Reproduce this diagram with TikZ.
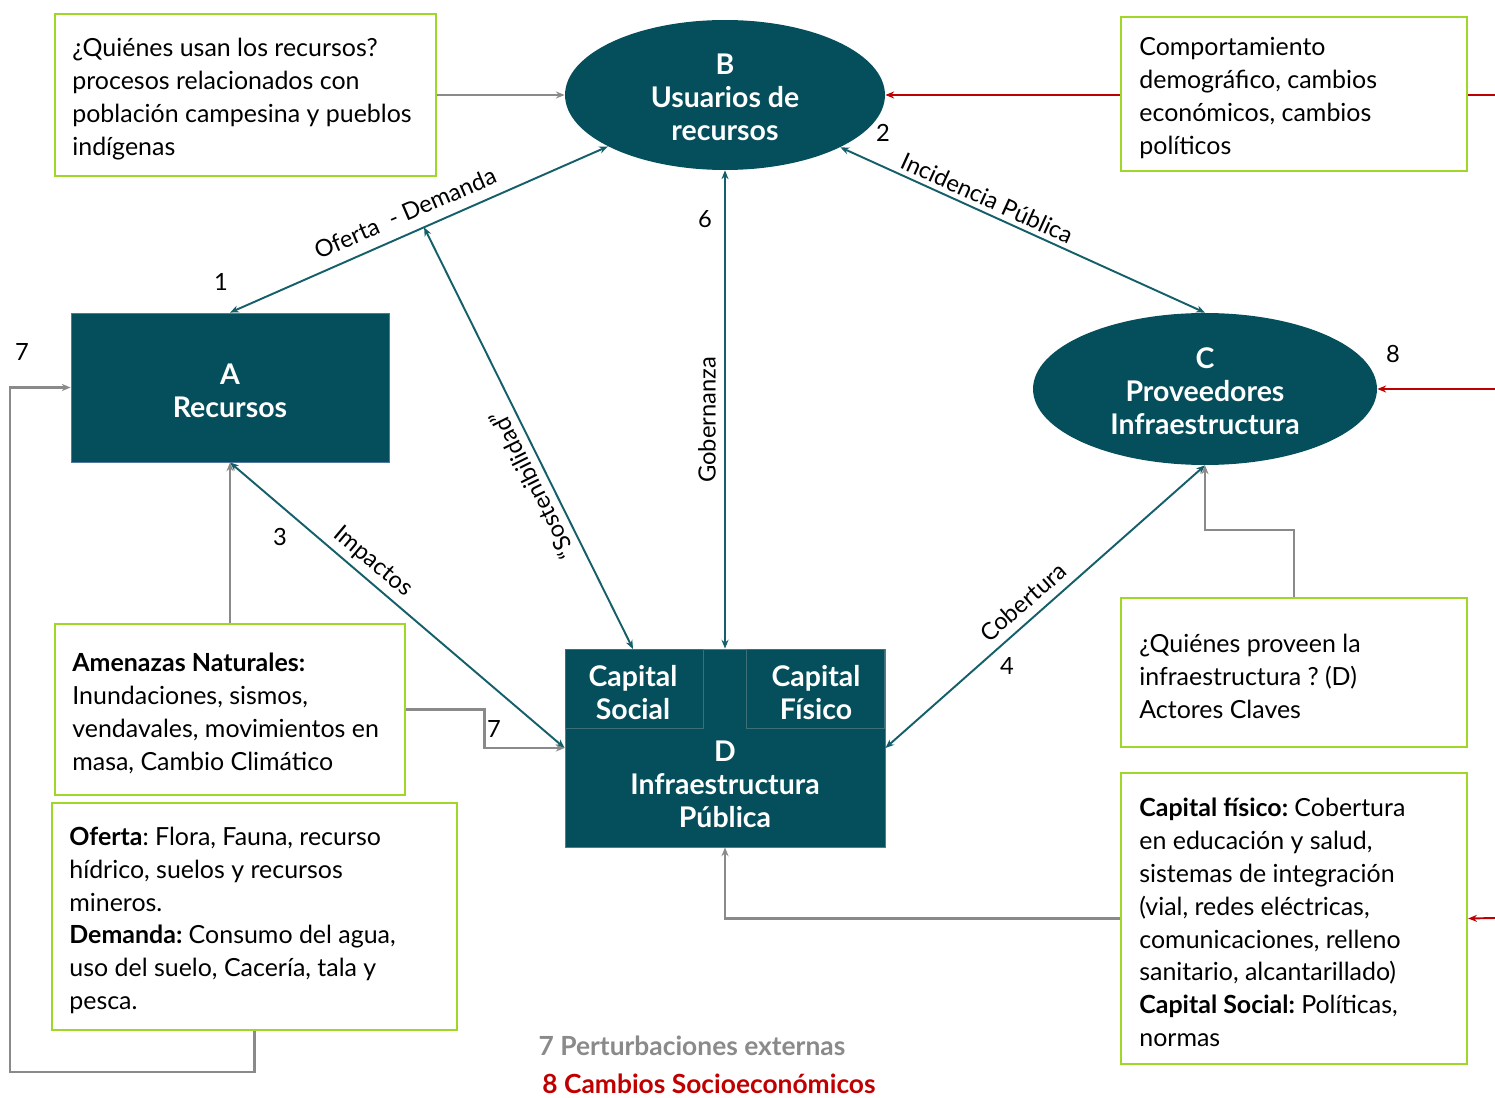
\documentclass[tikz,border=0pt]{standalone}
\usepackage{fontspec}
\setmainfont{Lato}
\frenchspacing
\usetikzlibrary{shapes.geometric,arrows.meta,calc}
\definecolor{petrol}{RGB}{4,79,91}
\definecolor{petrolline}{RGB}{20,95,105}
\definecolor{subedge}{RGB}{60,112,118}
\definecolor{edgeblue}{RGB}{80,120,160}
\definecolor{limeedge}{RGB}{160,214,40}
\definecolor{linkgray}{RGB}{138,138,138}
\definecolor{darkred}{RGB}{192,0,0}
\begin{document}
\begin{tikzpicture}[x=0.02cm,y=-0.02cm,
  notebox/.style={draw=limeedge, line width=1.4pt, fill=white, inner sep=0pt, anchor=center},
  notetext/.style={align=left, inner sep=0pt, anchor=center,
    font=\fontsize{14.2}{18.7}\selectfont},
  tealbox/.style={fill=petrol, draw=edgeblue, line width=0.5pt, inner sep=0pt, anchor=center},
  tealoval/.style={ellipse, fill=petrol, inner sep=0pt, anchor=center},
  whitetxt/.style={text=white, align=center, inner sep=0pt,
    font=\bfseries\fontsize{16.2}{18.7}\selectfont},
  subbox/.style={draw=subedge, line width=0.6pt, fill=petrol, inner sep=0pt},
  link/.style={draw=petrolline, line width=1.1pt,
    {Stealth[length=5pt,width=4pt]}-{Stealth[length=5pt,width=4pt]}},
  graylink/.style={draw=linkgray, line width=1.4pt, -{Stealth[length=5pt,width=4pt]}},
  redlink/.style={draw=darkred, line width=1.1pt, -{Stealth[length=5pt,width=4pt]}},
  num/.style={inner sep=0pt, font=\fontsize{13.5}{16}\selectfont},
  lbl/.style={inner sep=0pt, font=\fontsize{13.5}{16}\selectfont},
  legend/.style={inner sep=0pt, font=\bfseries\fontsize{15}{18}\selectfont}]
\useasboundingbox (0,0) rectangle (1495,1098);

% red driver lines entering from the right edge (drawn first, boxes cover them)
\coordinate (redB) at (1495,95);
\coordinate (redC) at (1495,389);
\coordinate (redCap) at (1495,918);

% main elements
\node[tealoval, minimum width=6.4cm, minimum height=3cm] (B) at (725,95) {};
\node[whitetxt] (Blabel) at (725,97) {B\\Usuarios de\\recursos};
\node[tealoval, minimum width=6.88cm, minimum height=3.04cm] (C) at (1205,389) {};
\node[whitetxt] (Clabel) at (1205,391) {C\\Proveedores\\Infraestructura};
\node[tealbox, minimum width=6.36cm, minimum height=2.98cm] (A) at (230,387.5) {};
\node[whitetxt] (Alabel) at (230,390.5) {A\\Recursos};

\node[tealbox, minimum width=6.4cm, minimum height=3.96cm] (D) at (725,748) {};
\node[subbox, anchor=north west, minimum width=2.76cm, minimum height=1.58cm] (cs) at (565,649) {};
\node[subbox, anchor=north east, minimum width=2.76cm, minimum height=1.58cm] (cf) at (885,649) {};
\node[whitetxt] (cslabel) at (633,692.5) {Capital\\Social};
\node[whitetxt] (cflabel) at (816,692.5) {Capital\\Físico};
\node[whitetxt] (Dlabel) at (725,784) {D\\Infraestructura\\Pública};

\draw[redlink] (redB) -- (B.east);
\draw[redlink] (redC) -- (C.east);

% text boxes
\node[notebox, minimum width=7.62cm, minimum height=3.24cm] (tl) at (245.5,95) {};
\node[notebox, minimum width=6.92cm, minimum height=3.08cm] (tr) at (1294,94) {};
\node[notebox, minimum width=7cm, minimum height=3.42cm] (amen) at (230,709.5) {};
\node[notebox, minimum width=8.1cm, minimum height=4.54cm] (of) at (254.5,916.5) {};
\node[notebox, minimum width=6.92cm, minimum height=2.98cm] (qp) at (1294,672.5) {};
\node[notebox, minimum width=6.92cm, minimum height=5.82cm] (cap) at (1294,918.5) {};

\node[notetext, anchor=west] (tltext) at (72,99)
  {¿Quiénes usan los recursos?\\ procesos relacionados con\\ población campesina y pueblos\\ indígenas};
\node[notetext, anchor=west] (trtext) at (1139,98)
  {Comportamiento\\ demográfico, cambios\\ económicos, cambios\\ políticos};
\node[notetext, anchor=west] (amentext) at (72,713.5)
  {\textbf{Amenazas Naturales:}\\ Inundaciones, sismos,\\ vendavales, movimientos en\\ masa, Cambio Climático};
\node[notetext, anchor=west] (oftext) at (69,920.5)
  {\textbf{Oferta}: Flora, Fauna, recurso\\ hídrico, suelos y recursos\\ mineros.\\ \textbf{Demanda:} Consumo del agua,\\ uso del suelo, Cacería, tala y\\ pesca.};
\node[notetext, anchor=west] (qptext) at (1139,676.5)
  {¿Quiénes proveen la\\ infraestructura ? (D)\\ Actores Claves};
\node[notetext, anchor=west] (captext) at (1139,922.5)
  {\textbf{Capital físico:} Cobertura\\ en educación y salud,\\ sistemas de integración\\ (vial, redes eléctricas,\\ comunicaciones, relleno\\ sanitario, alcantarillado)\\ \textbf{Capital Social:} Políticas,\\ normas};

\draw[redlink] (redCap) -- (cap.east);

% relations between the four components
\draw[link] (A.north) -- (B);
\coordinate (sost) at ($(A.north)!0.392!(B.center)$);
\draw[link] (sost) -- (cs.north -| 633,0);
\draw[link] (B.south) -- (D.north);
\draw[link] (B) -- (C.north);
\draw[link] (A.south) -- (D.west);
\draw[link] (C.south) -- (D.east);

% external influences
\draw[graylink] (tl.east) -- (B.west);
\draw[graylink] (amen.north) -- (A.south);
\draw[graylink] (amen.east) -| ($(D.west)+(-80,0)$) -- (D.west);
\coordinate (loopcorner) at (10,1072);
\draw[graylink] (of.south) |- (loopcorner) |- (A.west);
\draw[graylink] (qp.north) -- ++(0,-67) -| (C.south);
\draw[graylink] (cap.west) -| (D.south);

% connector labels
\node[lbl, rotate=23.4] (lofd) at (405,213) {Oferta\ \ - Demanda};
\node[lbl, rotate=116.4] (lsost) at (532,485) {“Sostenibilidad”};
\node[lbl, rotate=90] (lgob) at (707,420) {Gobernanza};
\node[lbl, rotate=-24.5] (linc) at (987,198) {Incidencia Pública};
\node[lbl, rotate=-40] (limp) at (373,562) {Impactos};
\node[lbl, rotate=41.3] (lcob) at (1023,602) {Cobertura};

% numbers
\node[num] (n1) at (221,282) {1};
\node[num] (n2) at (883,133) {2};
\node[num] (n3) at (280,537) {3};
\node[num] (n4) at (1007,666) {4};
\node[num] (n6) at (705,219) {6};
\node[num] (n7a) at (22,352) {7};
\node[num] (n7b) at (494,729) {7};
\node[num] (n8) at (1393,354) {8};

% legend
\node[legend, text=linkgray] (leg7) at (692,1046) {7 Perturbaciones externas};
\node[legend, text=darkred] (leg8) at (709,1084) {8 Cambios Socioeconómicos};
\end{tikzpicture}
\end{document}
